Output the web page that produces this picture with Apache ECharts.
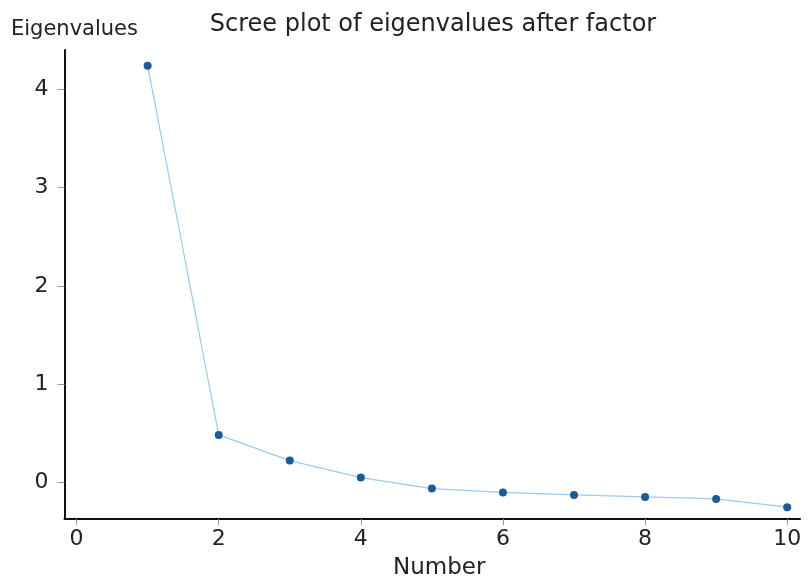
<!DOCTYPE html>
<html><head><meta charset="utf-8">
<script src="https://cdn.jsdelivr.net/npm/echarts@6/dist/echarts.min.js"></script>
<style>html,body{margin:0;padding:0;background:#fff}#c{width:808px;height:581px}</style>
</head><body><div id="c"></div>
<script>
const numbers = [1, 2, 3, 4, 5, 6, 7, 8, 9, 10];
const eigenvalues = [4.24, 0.485, 0.224, 0.051, -0.061, -0.10, -0.125, -0.145, -0.166, -0.25];
const xTicks = [0, 2, 4, 6, 8, 10];
const yTicks = [0, 1, 2, 3, 4];
const titleText = 'Scree plot of eigenvalues after factor';
const xName = 'Number';
const yName = 'Eigenvalues';

const chart = echarts.init(document.getElementById('c'), null, {renderer: 'canvas'});
const font = 'DejaVu Sans';
chart.setOption({
  animation: false,
  backgroundColor: '#fff',
  title: {
    text: titleText, left: 428, top: 8, textAlign: 'center',
    textStyle: {fontFamily: font, fontSize: 24, fontWeight: 'normal', color: '#222'}
  },
  grid: {left: 64.5, right: 8, top: 50, bottom: 62, containLabel: false, outerBoundsMode: 'none'},
  xAxis: {
    type: 'value', min: -0.17, max: 10.18,
    name: xName, nameLocation: 'middle', nameGap: 38,
    nameTextStyle: {fontFamily: font, fontSize: 23, color: '#222', padding: [0, 0, 0, 14]},
    axisLine: {onZero: false, lineStyle: {color: '#111', width: 2}},
    axisTick: {show: true, length: 6, lineStyle: {color: '#999'}, customValues: xTicks},
    axisLabel: {fontFamily: font, fontSize: 22, color: '#222', margin: 9, customValues: xTicks},
    splitLine: {show: false}
  },
  yAxis: {
    type: 'value', min: -0.37, max: 4.40,
    name: yName, nameLocation: 'end', nameGap: 10,
    nameTextStyle: {fontFamily: font, fontSize: 21, color: '#222', align: 'center', padding: [0, 0, 0, 20]},
    axisLine: {onZero: false, lineStyle: {color: '#111', width: 2}},
    axisTick: {show: true, length: 7, lineStyle: {color: '#999'}, customValues: yTicks},
    axisLabel: {fontFamily: font, fontSize: 22, color: '#222', margin: 16, customValues: yTicks},
    splitLine: {show: false}
  },
  series: [{
    type: 'line',
    data: numbers.map((n, i) => [n, eigenvalues[i]]),
    symbol: 'circle', symbolSize: 8,
    lineStyle: {color: '#9ccbea', width: 1.2},
    itemStyle: {color: '#1d5a96'}
  }]
});
</script></body></html>
